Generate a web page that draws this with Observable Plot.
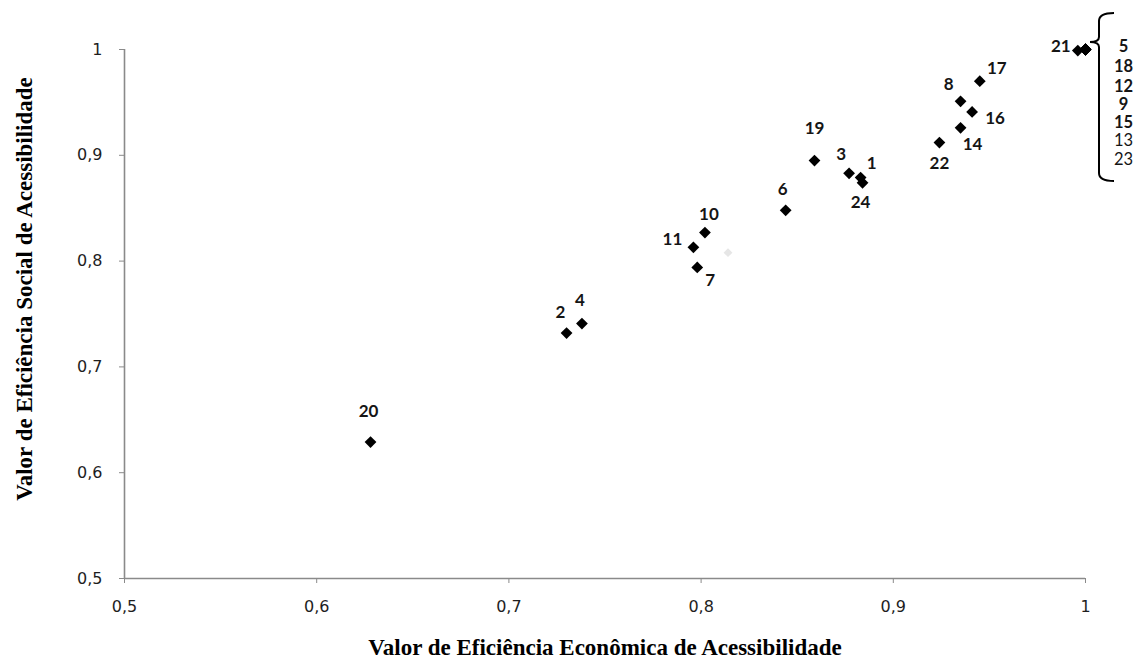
<!DOCTYPE html>
<html><head><meta charset="utf-8">
<script src="https://cdn.jsdelivr.net/npm/d3@7"></script>
<script src="https://cdn.jsdelivr.net/npm/@observablehq/plot@0.6"></script>
<style>body{margin:0;background:#fff}</style>
</head><body><div id="chart"></div>
<script>
// ---- data ----
const ids      = ["20","2","4","11","10","7","6","19","3","1","24","22","14","16","8","17","21","5","18","12","9","15","13","23"];
const economic = [0.628,0.730,0.738,0.796,0.802,0.798,0.844,0.859,0.877,0.883,0.884,0.924,0.935,0.941,0.935,0.945,0.996,1,1,1,1,1,1,1];
const social   = [0.629,0.732,0.741,0.813,0.827,0.794,0.848,0.895,0.883,0.879,0.874,0.912,0.926,0.941,0.951,0.970,0.999,1,1,1,1,1,1,1];
const stackedIds = ["5","18","12","9","15","13","23"];   // units sharing the point (1, 1)
const faintX = [0.814];
const faintY = [0.808];
const xTicks = [0.5,0.6,0.7,0.8,0.9,1];
const yTicks = [0.5,0.6,0.7,0.8,0.9,1];
const xTitle = "Valor de Eficiência Econômica de Acessibilidade";
const yTitle = "Valor de Eficiência Social de Acessibilidade";

// ---- layout (label placement, styles) ----
const labelOffset = {
  "20":[-2,-30], "2":[-6,-20], "4":[-2,-23], "11":[-21,-8], "10":[4,-18], "7":[13,13],
  "6":[-3,-21], "19":[0,-32], "3":[-8,-19], "1":[11,-14], "24":[-2,20], "22":[0,21],
  "14":[12,17], "16":[23,7], "8":[-12,-17], "17":[17,-13], "21":[-17,-4]
};
const stackDy = [-3,17,37,55,73,91,110];
const stackBold = ["bold","bold","bold","bold","bold","normal","normal"];
const labelFont = "Lato, 'Open Sans', sans-serif";
const tickFont = "'DejaVu Sans', Verdana, sans-serif";
const titleFont = "'Liberation Serif', 'Times New Roman', serif";
const ink = "#151515";

const pts = ids.map((id,i)=>({id, x: economic[i], y: social[i]}));
const fmt = d => d === 1 ? "1" : d.toFixed(1).replace(".", ",");

const labelMarks = pts.filter(d => labelOffset[d.id]).map(d =>
  Plot.text([d], {x:"x", y:"y", text:"id", dx: labelOffset[d.id][0], dy: labelOffset[d.id][1],
    fontSize: 17, fontWeight: "bold", fontFamily: labelFont, fill: ink})
);
const anchor = [{x: 1, y: 1}];
const stackMarks = stackedIds.map((s,i) =>
  Plot.text(anchor, {x:"x", y:"y", text: () => s, dx: 38, dy: stackDy[i],
    fontSize: 16.5, fontWeight: stackBold[i], fontFamily: labelFont, fill: ink})
);

// curly brace grouping the units at (1,1)
const brace = (index, scales) => {
  const X = scales.x(1), Y = scales.y(1);
  const p = `M${X+29},${Y-36} Q${X+14},${Y-36} ${X+14},${Y-28} L${X+14},${Y-12} Q${X+14},${Y-7} ${X+5},${Y-7} Q${X+14},${Y-7} ${X+14},${Y-2} L${X+14},${Y+124} Q${X+14},${Y+132} ${X+29},${Y+132}`;
  return d3.create("svg:path").attr("d", p).attr("fill","none").attr("stroke","#000").attr("stroke-width",2).node();
};

const chart = Plot.plot({
  width: 1139, height: 665,
  marginLeft: 124, marginRight: 54, marginTop: 49, marginBottom: 87,
  style: {background: "#fff", overflow: "visible"},
  x: {domain: [0.5, 1]},
  y: {domain: [0.5, 1]},
  marks: [
    Plot.ruleY([0.5], {stroke: "#8a8a8a", strokeWidth: 1.6}),
    Plot.ruleX([0.5], {stroke: "#8a8a8a", strokeWidth: 1.6}),
    Plot.axisX(xTicks, {ticks: xTicks, tickFormat: fmt, tickSize: 5, tickPadding: 17, stroke: "#8a8a8a",
      fontSize: 16, fontFamily: tickFont, color: "#1e1e1e", label: null}),
    Plot.axisY(yTicks, {ticks: yTicks, tickFormat: fmt, tickSize: 5, tickPadding: 17, stroke: "#8a8a8a",
      fontSize: 16, fontFamily: tickFont, color: "#1e1e1e", label: null}),
    Plot.text([xTitle], {frameAnchor: "bottom", dy: 76, fontSize: 23, fontWeight: "bold",
      fontFamily: titleFont, fill: "#000"}),
    Plot.text([yTitle], {frameAnchor: "left", textAnchor: "middle", dx: -100, dy: -25, rotate: -90, fontSize: 23, fontWeight: "bold",
      fontFamily: titleFont, fill: "#000"}),
    Plot.dot(faintX.map((x,i)=>({x, y: faintY[i]})), {x:"x", y:"y", symbol:"diamond2", r: 4, fill:"#e6e6e6"}),
    Plot.dot(pts, {x:"x", y:"y", symbol: "diamond2", r: 5.3, fill: "#000", stroke: "none"}),
    ...labelMarks,
    ...stackMarks,
    brace
  ]
});
document.getElementById("chart").append(chart);
</script>
</body></html>
